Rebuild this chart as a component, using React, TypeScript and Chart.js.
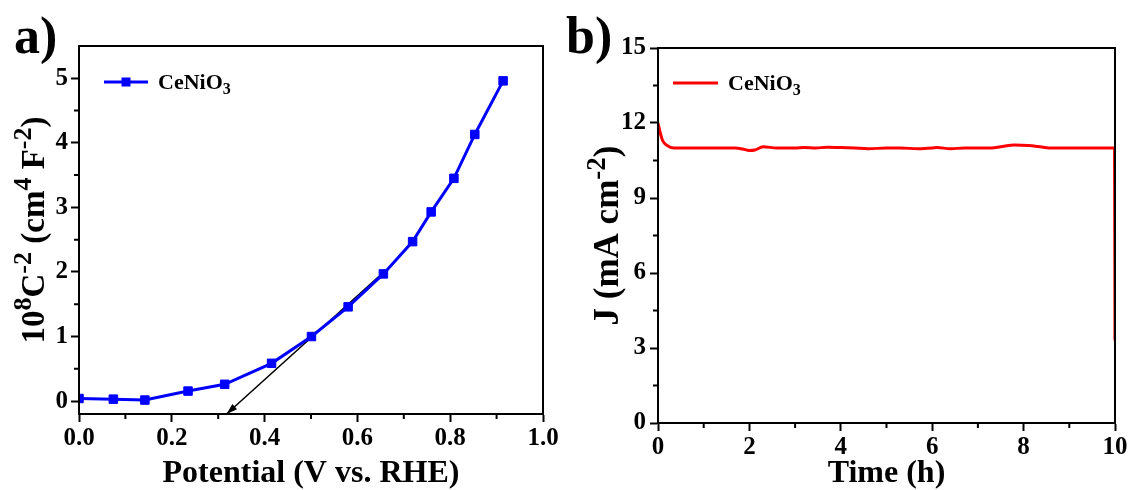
import React, { useEffect, useRef } from 'react';
import { Chart, registerables } from 'chart.js';

Chart.register(...registerables);

const SERIF = '"Liberation Serif", "Times New Roman", Times, serif';

// ---------- Panel a: Mott-Schottky ----------
const POTENTIAL = [0.0, 0.074, 0.142, 0.235, 0.314, 0.415, 0.501, 0.58, 0.656, 0.719, 0.759, 0.808, 0.853, 0.914];
const INV_C2 = [0.04, 0.03, 0.016, 0.155, 0.26, 0.585, 1.0, 1.46, 1.97, 2.47, 2.93, 3.45, 4.13, 4.96];
const TANGENT_X = [0.646, 0.318];
const TANGENT_Y = [1.93, -0.2];
const X_TICKS_A = [0, 0.2, 0.4, 0.6, 0.8, 1.0];
const Y_TICKS_A = [0, 1, 2, 3, 4, 5];

// ---------- Panel b: chronoamperometry ----------
const TIME_H = [0, 0.05, 0.1, 0.2, 0.35, 0.6, 1.0, 1.4, 1.7, 1.85, 2.0, 2.12, 2.3, 2.6, 3.0, 3.2, 3.45, 3.7, 4.0, 4.3, 4.6, 5.0, 5.3, 5.7, 6.0, 6.1, 6.4, 6.7, 7.0, 7.3, 7.5, 7.8, 8.1, 8.4, 8.6, 9.0, 9.5, 9.99, 10.0];
const CURRENT = [12.0, 11.6, 11.3, 11.1, 11.0, 11.0, 11.0, 11.0, 11.0, 10.96, 10.9, 10.92, 11.05, 11.0, 11.0, 11.02, 11.0, 11.03, 11.02, 11.0, 10.97, 11.0, 11.0, 10.97, 11.0, 11.02, 10.97, 11.0, 11.0, 11.0, 11.05, 11.12, 11.1, 11.04, 11.0, 11.0, 11.0, 11.0, 3.3];
const X_TICKS_B = [0, 2, 4, 6, 8, 10];
const Y_TICKS_B = [0, 3, 6, 9, 12, 15];

type Seg = { t: string; k?: 'sup' | 'sub' };

const LEGEND_LABEL: Seg[] = [{ t: 'CeNiO' }, { t: '3', k: 'sub' }];
const Y_TITLE_A: Seg[] = [
  { t: '10' }, { t: '8', k: 'sup' }, { t: 'C' }, { t: '-2', k: 'sup' },
  { t: ' (cm' }, { t: '4', k: 'sup' }, { t: ' F' }, { t: '-2', k: 'sup' }, { t: ')' },
];
const Y_TITLE_B: Seg[] = [{ t: 'J (mA cm' }, { t: '-2', k: 'sup' }, { t: ')' }];
const X_TITLE_A = 'Potential (V vs. RHE)';
const X_TITLE_B = 'Time (h)';

function segFont(size: number, k?: string) {
  const s = k === 'sup' ? Math.round(size * 0.78) : k === 'sub' ? Math.round(size * 0.72) : size;
  return `bold ${s}px ${SERIF}`;
}

function drawRich(ctx: CanvasRenderingContext2D, segs: Seg[], x: number, y: number, size: number, align: 'left' | 'center') {
  let w = 0;
  for (const s of segs) {
    ctx.font = segFont(size, s.k);
    w += ctx.measureText(s.t).width;
  }
  let cx = align === 'center' ? x - w / 2 : x;
  ctx.textAlign = 'left';
  ctx.textBaseline = 'alphabetic';
  for (const s of segs) {
    ctx.font = segFont(size, s.k);
    const dy = s.k === 'sup' ? -size * 0.38 : s.k === 'sub' ? size * 0.22 : 0;
    ctx.fillText(s.t, cx, y + dy);
    cx += ctx.measureText(s.t).width;
  }
}

interface Decor {
  letter: string;
  letterX: number;
  letterY: number;
  yTitle: Seg[];
  yTitleX: number;
  yTitleSize: number;
  color: string;
  marker: boolean;
  legX0: number; // offsets from chartArea.left
  legX1: number;
  legTextX: number;
  legY: number; // offset from chartArea.top
  arrow: boolean;
}

function decorPlugin(d: Decor) {
  return {
    id: 'decor',
    afterDraw(chart: any) {
      const ctx: CanvasRenderingContext2D = chart.ctx;
      const a = chart.chartArea;
      ctx.save();
      ctx.fillStyle = '#000';
      ctx.strokeStyle = '#000';

      // arrow head at end of tangent line
      if (d.arrow) {
        const sx = chart.scales.x, sy = chart.scales.y;
        const x0 = sx.getPixelForValue(TANGENT_X[0]);
        const y0 = sy.getPixelForValue(TANGENT_Y[0]);
        const x1 = sx.getPixelForValue(TANGENT_X[1]);
        const y1 = sy.getPixelForValue(TANGENT_Y[1]);
        const ang = Math.atan2(y1 - y0, x1 - x0);
        const L = 11, W = 3.5;
        ctx.beginPath();
        ctx.moveTo(x1, y1);
        ctx.lineTo(x1 - L * Math.cos(ang) + W * Math.sin(ang), y1 - L * Math.sin(ang) - W * Math.cos(ang));
        ctx.lineTo(x1 - L * Math.cos(ang) - W * Math.sin(ang), y1 - L * Math.sin(ang) + W * Math.cos(ang));
        ctx.closePath();
        ctx.fill();
      }

      // frame
      ctx.lineWidth = 2;
      ctx.strokeRect(a.left, a.top, a.right - a.left, a.bottom - a.top);

      // minor ticks
      ctx.lineWidth = 2;
      for (const id of ['x', 'y']) {
        const s = chart.scales[id];
        const vals = s.ticks.map((t: any) => t.value);
        ctx.beginPath();
        for (let i = 0; i < vals.length - 1; i++) {
          const p = s.getPixelForValue((vals[i] + vals[i + 1]) / 2);
          if (id === 'x') {
            ctx.moveTo(p, a.bottom);
            ctx.lineTo(p, a.bottom + 5);
          } else {
            ctx.moveTo(a.left, p);
            ctx.lineTo(a.left - 5, p);
          }
        }
        ctx.stroke();
      }

      // legend
      const ly = a.top + d.legY;
      ctx.strokeStyle = d.color;
      ctx.lineWidth = 3;
      ctx.beginPath();
      ctx.moveTo(a.left + d.legX0, ly);
      ctx.lineTo(a.left + d.legX1, ly);
      ctx.stroke();
      if (d.marker) {
        ctx.fillStyle = d.color;
        const mx = a.left + (d.legX0 + d.legX1) / 2;
        ctx.fillRect(mx - 4.5, ly - 4.5, 9, 9);
      }
      ctx.fillStyle = '#000';
      drawRich(ctx, LEGEND_LABEL, a.left + d.legTextX, ly + 7, 22, 'left');

      // y title
      ctx.save();
      ctx.translate(d.yTitleX, (a.top + a.bottom) / 2);
      ctx.rotate(-Math.PI / 2);
      drawRich(ctx, d.yTitle, 0, 0, d.yTitleSize, 'center');
      ctx.restore();

      // panel letter
      ctx.font = `bold 52px ${SERIF}`;
      ctx.textAlign = 'left';
      ctx.textBaseline = 'alphabetic';
      ctx.fillText(d.letter, d.letterX, d.letterY);
      ctx.restore();
    },
  };
}

function axis(o: {
  min: number; max: number; ticks: number[]; fmt: (v: number) => string;
  fit: number; horizontal: boolean; pad: number; title?: string;
}) {
  return {
    type: 'linear',
    min: o.min,
    max: o.max,
    afterBuildTicks: (s: any) => {
      s.ticks = o.ticks.map((v) => ({ value: v }));
    },
    afterFit: (s: any) => {
      if (o.horizontal) s.height = o.fit;
      else s.width = o.fit;
      s.paddingLeft = 0;
      s.paddingRight = 0;
      s.paddingTop = 0;
      s.paddingBottom = 0;
    },
    ticks: {
      font: { family: SERIF, size: 25, weight: 'bold' },
      color: '#000',
      padding: o.pad,
      autoSkip: false,
      maxRotation: 0,
      callback: (v: any) => o.fmt(Number(v)),
    },
    grid: {
      display: true,
      drawOnChartArea: false,
      drawTicks: true,
      tickLength: 8,
      tickWidth: 2,
      tickColor: '#000',
      color: '#000',
    },
    border: { display: true, color: '#000', width: 2 },
    title: o.title
      ? {
          display: true,
          text: o.title,
          color: '#000',
          font: { family: SERIF, size: 32, weight: 'bold', lineHeight: 1 },
          padding: { top: 0, bottom: 0 },
        }
      : { display: false },
  };
}

function configA(): any {
  return {
    type: 'line',
    data: {
      datasets: [
        {
          label: 'CeNiO3',
          data: POTENTIAL.map((x, i) => ({ x, y: INV_C2[i] })),
          borderColor: '#0000ff',
          backgroundColor: '#0000ff',
          borderWidth: 3,
          pointStyle: 'rect',
          pointRadius: 6,
          pointBorderWidth: 1,
          pointBorderColor: '#0000ff',
          pointBackgroundColor: '#0000ff',
          order: 0,
        },
        {
          label: 'tangent',
          data: TANGENT_X.map((x, i) => ({ x, y: TANGENT_Y[i] })),
          borderColor: '#000',
          borderWidth: 1.5,
          pointRadius: 0,
          order: 1,
        },
      ],
    },
    options: {
      responsive: false,
      animation: false,
      devicePixelRatio: 1,
      events: [],
      layout: { padding: { left: 0, top: 46, right: 17, bottom: 0 } },
      plugins: { legend: { display: false }, tooltip: { enabled: false } },
      scales: {
        x: axis({ min: 0, max: 1, ticks: X_TICKS_A, fmt: (v) => v.toFixed(1), fit: 76, horizontal: true, pad: 2, title: X_TITLE_A }),
        y: axis({ min: -0.2, max: 5.5, ticks: Y_TICKS_A, fmt: (v) => String(v), fit: 79, horizontal: false, pad: 3 }),
      },
    },
    plugins: [
      decorPlugin({
        letter: 'a)', letterX: 14, letterY: 53,
        yTitle: Y_TITLE_A, yTitleX: 44, yTitleSize: 33,
        color: '#0000ff', marker: true,
        legX0: 25, legX1: 69, legTextX: 79, legY: 36,
        arrow: true,
      }),
    ],
  };
}

function configB(): any {
  return {
    type: 'line',
    data: {
      datasets: [
        {
          label: 'CeNiO3',
          data: TIME_H.map((x, i) => ({ x, y: CURRENT[i] })),
          borderColor: '#ff0000',
          backgroundColor: '#ff0000',
          borderWidth: 3,
          pointRadius: 0,
          cubicInterpolationMode: 'monotone',
        },
      ],
    },
    options: {
      responsive: false,
      animation: false,
      devicePixelRatio: 1,
      events: [],
      layout: { padding: { left: 0, top: 48, right: 16, bottom: 0 } },
      plugins: { legend: { display: false }, tooltip: { enabled: false } },
      scales: {
        x: axis({ min: 0, max: 10, ticks: X_TICKS_B, fmt: (v) => String(v), fit: 67, horizontal: true, pad: 2, title: X_TITLE_B }),
        y: axis({ min: 0, max: 15, ticks: Y_TICKS_B, fmt: (v) => String(v), fit: 98, horizontal: false, pad: 4 }),
      },
    },
    plugins: [
      decorPlugin({
        letter: 'b)', letterX: 6, letterY: 53,
        yTitle: Y_TITLE_B, yTitleX: 58, yTitleSize: 35,
        color: '#ff0000', marker: false,
        legX0: 15, legX1: 60, legTextX: 70, legY: 35,
        arrow: false,
      }),
    ],
  };
}

function Panel({ make, left, width }: { make: () => any; left: number; width: number }) {
  const ref = useRef<HTMLCanvasElement>(null);
  useEffect(() => {
    const chart = new Chart(ref.current as HTMLCanvasElement, make());
    return () => chart.destroy();
  }, []);
  return (
    <canvas
      ref={ref}
      width={width}
      height={490}
      style={{ position: 'absolute', left, top: 0, width, height: 490 }}
    />
  );
}

export default function App() {
  return (
    <div style={{ position: 'absolute', left: 0, top: 0, width: 1131, height: 490, background: '#fff', overflow: 'hidden' }}>
      <Panel make={configA} left={0} width={560} />
      <Panel make={configB} left={560} width={571} />
    </div>
  );
}
